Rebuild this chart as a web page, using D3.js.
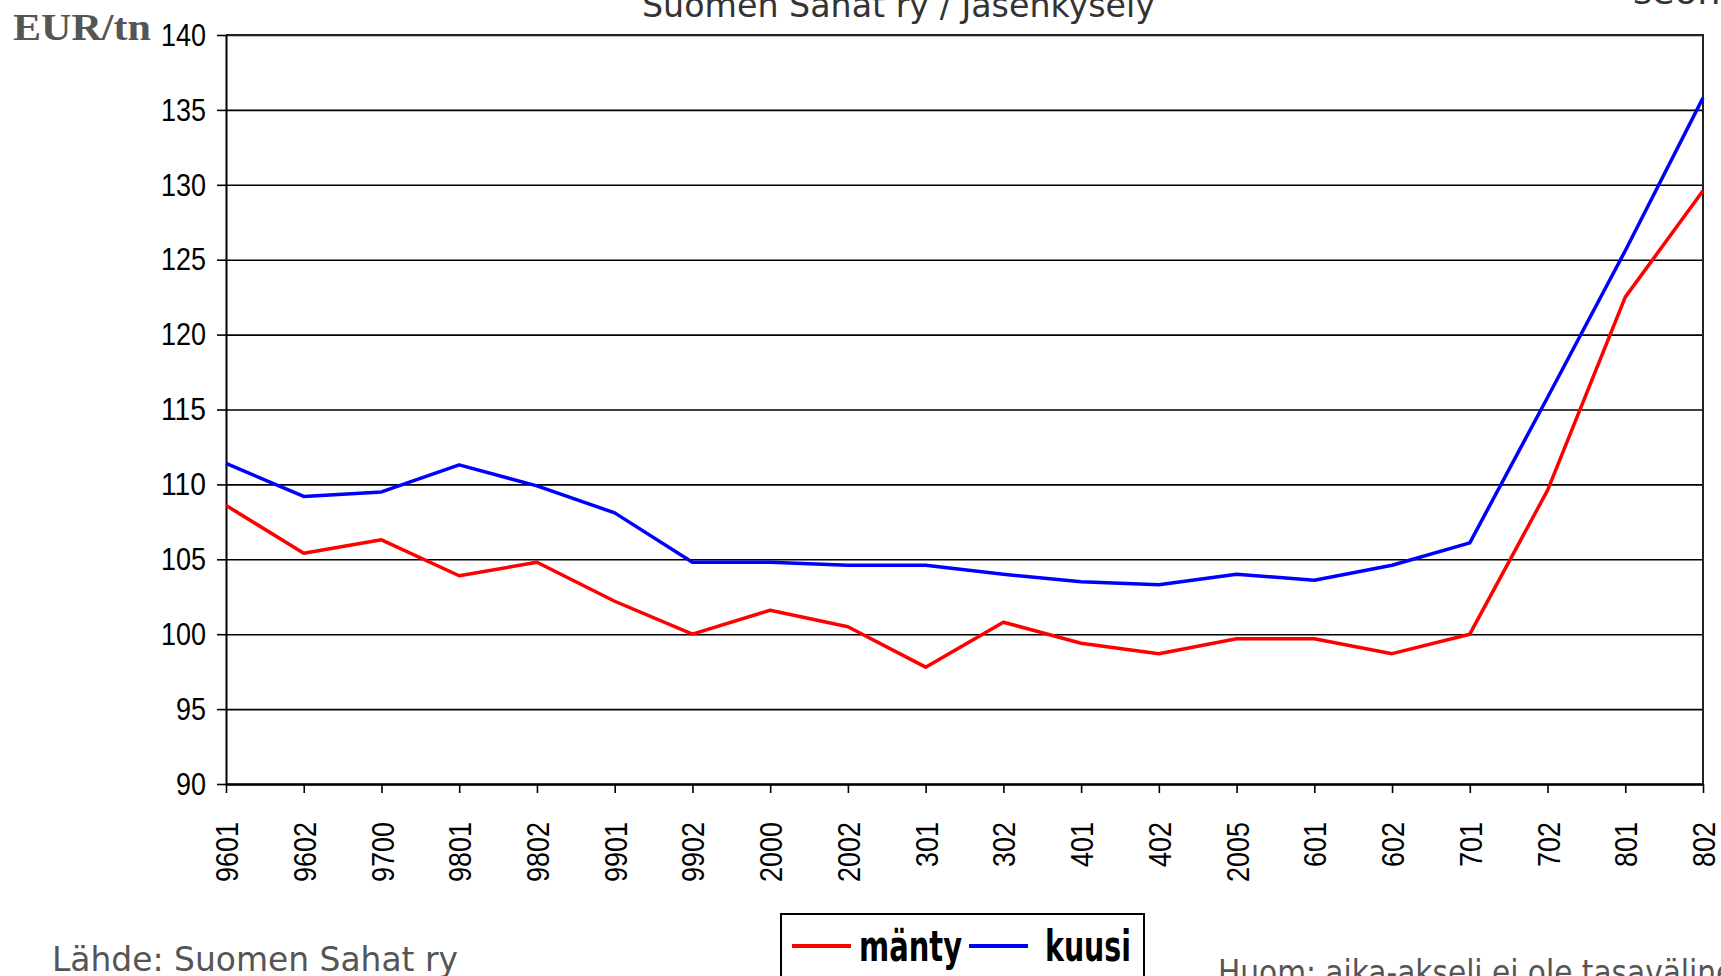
<!DOCTYPE html>
<html lang="fi">
<head>
  <meta charset="UTF-8">
  <title>Sahatavaran hinta</title>
  <script src="https://d3js.org/d3.v7.min.js"></script>
</head>
<body style="margin: 0; overflow: hidden; background: #fff;">

<script>
  // Data (EUR/tn)
  const categories = ['9601', '9602', '9700', '9801', '9802', '9901', '9902', '2000', '2002', '301',
                      '302', '401', '402', '2005', '601', '602', '701', '702', '801', '802'];
  const manty = [108.6, 105.4, 106.3, 103.9, 104.8, 102.2, 100.0, 101.6, 100.5, 97.8,
                 100.8, 99.4, 98.7, 99.7, 99.7, 98.7, 100.0, 109.6, 122.5, 129.6];
  const kuusi = [111.4, 109.2, 109.5, 111.3, 109.9, 108.1, 104.8, 104.8, 104.6, 104.6,
                 104.0, 103.5, 103.3, 104.0, 103.6, 104.6, 106.1, 115.8, 125.6, 135.8];
  const yTicks = [90, 95, 100, 105, 110, 115, 120, 125, 130, 135, 140];
  const seriesNames = ['mänty', 'kuusi'];
  const seriesColors = ['#ff0000', '#0000ff'];

  const W = 1721, H = 976;
  const plot = { left: 226, right: 1703, top: 35, bottom: 784 };
  const digitW = 15; // condensed digit width

  const svg = d3.select('body').append('svg')
    .attr('width', W)
    .attr('height', H)
    .style('font-family', '"DejaVu Sans", Verdana, sans-serif');

  const x = d3.scalePoint().domain(categories).range([plot.left, plot.right]).padding(0);
  const y = d3.scaleLinear().domain([90, 140]).range([plot.bottom, plot.top]);

  //Gridlines
  svg.append('g')
    .attr('transform', `translate(${plot.left},0)`)
    .call(d3.axisLeft(y).tickValues(yTicks).tickSize(-(plot.right - plot.left)).tickFormat(''))
    .call(g => g.select('.domain').remove())
    .selectAll('line')
    .attr('stroke', '#000')
    .attr('stroke-width', 1.6);

  //Plot border (top + right)
  svg.append('path')
    .attr('d', `M${plot.left},${plot.top}H${plot.right}V${plot.bottom}`)
    .attr('fill', 'none')
    .attr('stroke', '#222')
    .attr('stroke-width', 2);

  //Y axis
  const yAxis = svg.append('g')
    .attr('transform', `translate(${plot.left},0)`)
    .call(d3.axisLeft(y).tickValues(yTicks).tickSize(9).tickPadding(11).tickSizeOuter(0));
  yAxis.select('.domain').attr('stroke', '#000').attr('stroke-width', 2);
  yAxis.selectAll('line').attr('stroke', '#000').attr('stroke-width', 1.6);
  yAxis.selectAll('text')
    .attr('font-size', 32)
    .attr('fill', '#000')
    .attr('textLength', d => String(d).length * digitW)
    .attr('lengthAdjust', 'spacingAndGlyphs');

  //X axis
  const xAxis = svg.append('g')
    .attr('transform', `translate(0,${plot.bottom})`)
    .call(d3.axisBottom(x).tickSize(9).tickSizeOuter(0));
  xAxis.select('.domain').attr('stroke', '#000').attr('stroke-width', 2.5);
  xAxis.selectAll('line').attr('stroke', '#000').attr('stroke-width', 1.6);
  xAxis.selectAll('text')
    .attr('font-size', 32)
    .attr('fill', '#000')
    .attr('transform', 'rotate(-90)')
    .attr('text-anchor', 'end')
    .attr('x', -38)
    .attr('y', 0)
    .attr('dy', '0.36em')
    .attr('textLength', d => d.length * digitW)
    .attr('lengthAdjust', 'spacingAndGlyphs');

  //Lines
  const line = d3.line()
    .x((d, i) => x(categories[i]))
    .y(d => y(d));

  [manty, kuusi].forEach((s, i) => {
    svg.append('path')
      .datum(s)
      .attr('d', line)
      .attr('fill', 'none')
      .attr('stroke', seriesColors[i])
      .attr('stroke-width', 3.5)
      .attr('stroke-linejoin', 'round');
  });

  //Unit label
  svg.append('text')
    .attr('x', 13)
    .attr('y', 40)
    .attr('font-family', '"Liberation Serif", "Times New Roman", serif')
    .attr('font-weight', 'bold')
    .attr('font-size', 38)
    .attr('fill', '#555')
    .attr('textLength', 138)
    .attr('lengthAdjust', 'spacingAndGlyphs')
    .text('EUR/tn');

  //Title (cut at the top edge)
  svg.append('text')
    .attr('x', 642)
    .attr('y', 17)
    .attr('font-size', 33)
    .attr('fill', '#333')
    .attr('textLength', 513)
    .attr('lengthAdjust', 'spacingAndGlyphs')
    .text('Suomen Sahat ry / Jäsenkysely');

  svg.append('text')
    .attr('x', 1633)
    .attr('y', 4)
    .attr('font-size', 33)
    .attr('fill', '#333')
    .attr('textLength', 110)
    .attr('lengthAdjust', 'spacingAndGlyphs')
    .text('seone');

  //Footnotes
  svg.append('text')
    .attr('x', 52)
    .attr('y', 971)
    .attr('font-size', 34)
    .attr('fill', '#555')
    .attr('textLength', 406)
    .attr('lengthAdjust', 'spacingAndGlyphs')
    .text('Lähde: Suomen Sahat ry');

  svg.append('text')
    .attr('x', 1218)
    .attr('y', 984)
    .attr('font-size', 34)
    .attr('fill', '#555')
    .attr('textLength', 535)
    .attr('lengthAdjust', 'spacingAndGlyphs')
    .text('Huom: aika-akseli ei ole tasavälinen');

  //Legend
  const legend = svg.append('g');
  legend.append('rect')
    .attr('x', 781)
    .attr('y', 914)
    .attr('width', 363)
    .attr('height', 80)
    .attr('fill', '#fff')
    .attr('stroke', '#000')
    .attr('stroke-width', 2);

  const legendX = [[792, 859, 103], [969, 1045, 86]];
  seriesNames.forEach((name, i) => {
    const [lx, tx, tw] = legendX[i];
    legend.append('line')
      .attr('x1', lx).attr('x2', lx + 59)
      .attr('y1', 946).attr('y2', 946)
      .attr('stroke', seriesColors[i])
      .attr('stroke-width', 4);
    legend.append('text')
      .attr('x', tx)
      .attr('y', 961)
      .attr('font-size', 42)
      .attr('font-weight', 'bold')
      .attr('fill', '#000')
      .attr('textLength', tw)
      .attr('lengthAdjust', 'spacingAndGlyphs')
      .text(name);
  });
</script>

</body>
</html>
